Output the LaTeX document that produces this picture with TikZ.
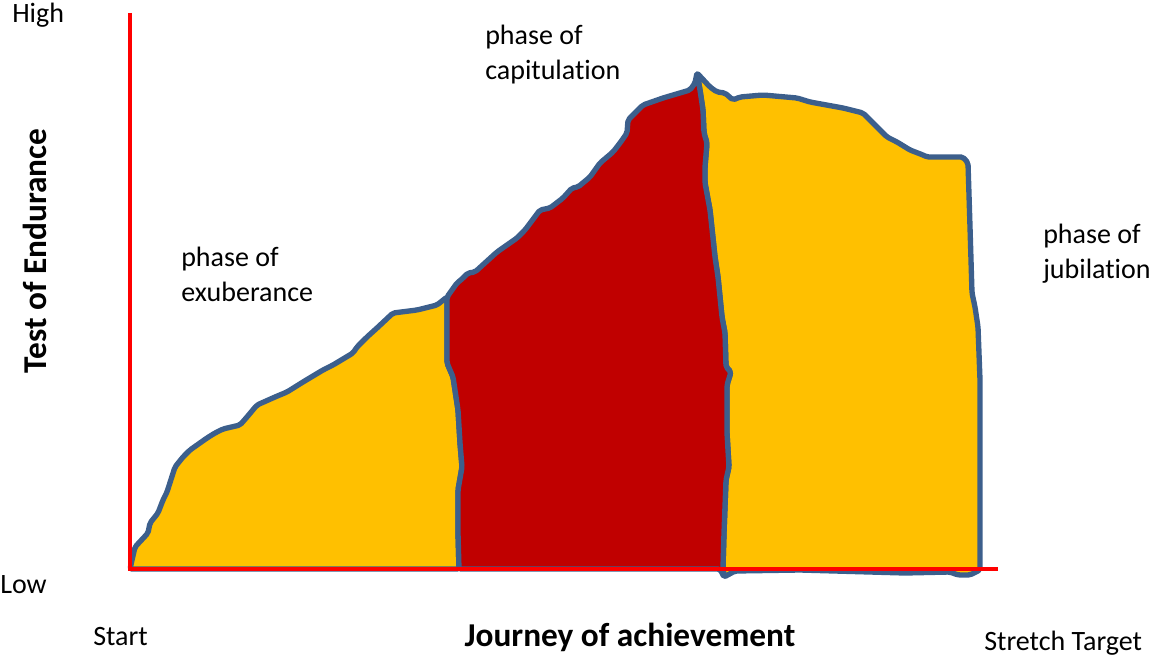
\documentclass[tikz,border=0pt]{standalone}
\usepackage{fontspec}
\setmainfont{Carlito}[Ligatures=NoCommon]
\usetikzlibrary{positioning}
\definecolor{axisred}{HTML}{FF0000}
\definecolor{rim}{HTML}{3C5F8C}
\definecolor{gold}{HTML}{FFC000}
\definecolor{crimson}{HTML}{C00000}
\tikzset{el/.style={line cap=round, line join=round},
  phase/.style={fill=#1, draw=rim, line width=4pt, rounded corners=1.5pt},
  lbl/.style={font=\fontsize{21}{26.25}\selectfont, align=left, anchor=west, inner sep=0pt},
  ttl/.style={font=\fontsize{25}{30}\selectfont\bfseries, inner sep=0pt}}

\begin{document}
\begin{tikzpicture}[el, x=0.75pt, y=-0.75pt]
  \useasboundingbox (0,0) rectangle (1153,656);
  \coordinate (top) at (130,13);\coordinate (orig) at (130,569);\coordinate (end) at (998,569);
  % exuberance
  \path[phase=gold] (130,569) -- (135,547) -- (148,533) -- (150,523) -- (158,513) -- (163,500) -- (167,492)
    -- (175,467) -- (183,457) -- (190,450) -- (207,438) -- (215,433) -- (223,429) -- (240,425) -- (247,417)
    -- (257,405) -- (275,397) -- (287,392) -- (303,382) -- (323,370) -- (333,365) -- (353,353) -- (357,347)
    -- (367,337) -- (377,328) -- (393,313) -- (417,310) -- (437,305) -- (447,297)
    -- (447,363) -- (453,377) -- (458,410) -- (460,443) -- (462,467) -- (458,490) -- (458,533) -- (459,569) -- cycle;
  % jubilation
  \path[phase=gold] (697,73) -- (710,87) -- (717,92) -- (725,93) -- (733,100) -- (740,97) -- (763,95) -- (797,98)
    -- (810,102) -- (843,108) -- (863,113) -- (880,130) -- (887,137) -- (897,142) -- (910,150) -- (923,155)
    -- (927,157) -- (963,157) -- (968,163) -- (970,227) -- (972,293) -- (975,307) -- (978,327) -- (980,380)
    -- (980,570) -- (970,575) -- (958,575) -- (950,572) -- (905,573) -- (800,570) -- (735,571) -- (724,577)
    -- (723,567) -- (724,533) -- (726,480) -- (729,467) -- (727,433) -- (727,385) -- (731,372) -- (726,367)
    -- (725,333) -- (722,317) -- (718,277) -- (715,257) -- (710,210) -- (705,183) -- (705,167) -- (707,143)
    -- (704,133) -- (703,110) -- (700,90) -- cycle;
  % capitulation
  \path[phase=crimson] (447,297) -- (457,283) -- (462,279) -- (468,273) -- (475,272) -- (497,252) -- (517,238)
    -- (525,230) -- (540,210) -- (550,208) -- (563,198) -- (572,188) -- (578,187) -- (590,177) -- (600,163)
    -- (613,152) -- (620,143) -- (627,133) -- (628,120) -- (633,115) -- (643,105) -- (663,98) -- (690,90)
    -- (695,83) -- (697,73) -- (700,90) -- (703,110) -- (704,133) -- (707,143) -- (705,167) -- (705,183)
    -- (710,210) -- (715,257) -- (718,277) -- (722,317) -- (725,333) -- (726,367) -- (731,372) -- (727,385)
    -- (727,433) -- (729,467) -- (726,480) -- (724,533) -- (723,567) -- (724,577) -- (720,569)
    -- (459,569) -- (458,533) -- (458,490) -- (462,467) -- (460,443) -- (458,410) -- (453,377) -- (447,363) -- cycle;
  % axes
  \draw[axisred, line width=3.2pt, line join=miter, line cap=butt] (top) -- (orig) -- (end);
  \node[lbl] (high) at (12,15) {High};
  \node[lbl] (low) at (0,585) {Low};
  \node[lbl] (start) at (93,637) {Start};
  \node[lbl] (target) at (984,643) {Stretch Target};
  \node[ttl] (journey) at (630,637) {Journey of achievement};
  \node[ttl, rotate=90] (endure) at (35,251) {Test of Endurance};
  \node[lbl] (exu) at (181,274) {phase of\\exuberance};
  \node[lbl] (cap) at (485,55) {phase of\\capitulation};
  \node[lbl] (jub) at (1043,254) {phase of\\jubilation};
\end{tikzpicture}
\end{document}
